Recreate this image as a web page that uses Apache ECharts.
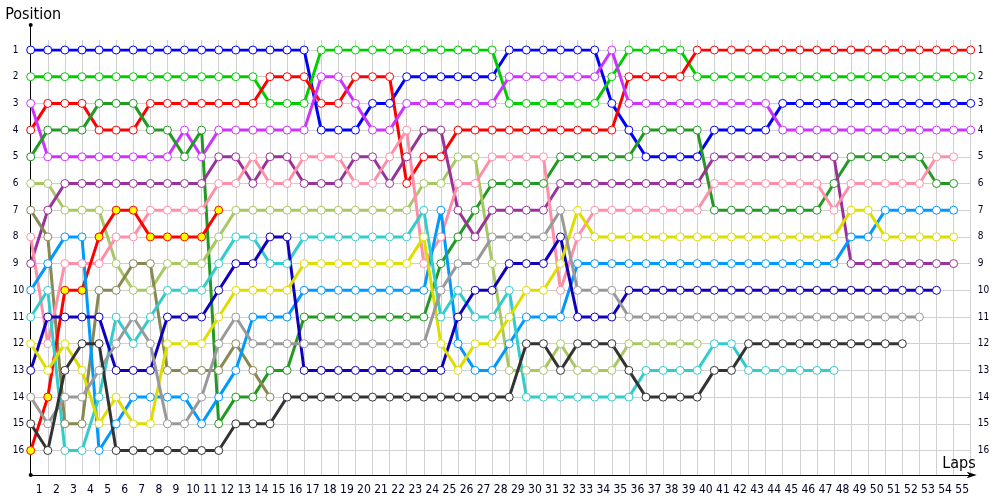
<!DOCTYPE html>
<html><head><meta charset="utf-8">
<script src="https://cdn.jsdelivr.net/npm/echarts/dist/echarts.min.js"></script>
<style>html,body{margin:0;padding:0;background:#fff}#c{width:1000px;height:500px}</style>
</head><body><div id="c"></div>
<script>
const lapLabels = ['1','2','3','4','5','6','7','8','9','10','11','12','13','14','15','16','17','18','19','20','21','22','23','24','25','26','27','28','29','30','31','32','33','34','35','36','37','38','39','40','41','42','43','44','45','46','47','48','49','50','51','52','53','54','55'];

// positions after each lap boundary (index 0 = start)
const blue = [1,1,1,1,1,1,1,1,1,1,1,1,1,1,1,1,1, 4,4,4, 3,3, 2,2,2,2,2,2, 1,1,1,1,1,1, 3, 4, 5,5,5,5, 4,4,4,4, 3,3,3,3,3,3,3,3,3,3,3,3];
const green = [2,2,2,2,2,2,2,2,2,2,2,2,2,2, 3,3,3, 1,1,1,1,1,1,1,1,1,1,1, 3,3,3,3,3,3, 2, 1,1,1,1, 2,2,2,2,2,2,2,2,2,2,2,2,2,2,2,2,2];
const red = [4, 3,3,3, 4,4,4, 3,3,3,3,3,3,3, 2,2,2, 3,3, 2,2,2, 6, 5,5, 4,4,4,4,4,4,4,4,4,4, 2,2,2,2, 1,1,1,1,1,1,1,1,1,1,1,1,1,1,1,1,1];
const violet = [3, 5,5,5,5,5,5,5,5, 4, 5, 4,4,4,4,4,4, 2,2, 3, 4,4, 3,3,3,3,3,3, 2,2,2,2,2,2, 1, 3,3,3,3,3,3,3,3,3, 4,4,4,4,4,4,4,4,4,4,4,4];
const darkGreen = [5, 4,4,4, 3,3,3, 4,4, 5, 4, 15, 14,14, 13,13, 11,11,11,11,11,11,11,11, 9, 8, 7, 6,6,6,6, 5,5,5,5,5, 4,4,4,4, 7,7,7,7,7,7,7, 6, 5,5,5,5,5, 6,6];
const lightOlive = [6,6, 7,7,7, 9, 10,10, 9,9,9, 8, 7,7,7,7,7,7,7,7,7,7,7, 6,6, 5,5, 9, 13,13,13, 12, 13,13,13, 12,12,12,12,12];
const plum = [9, 7, 6,6,6,6,6,6,6,6,6, 5,5, 6, 5,5, 6,6,6, 5,5, 6, 5, 4,4, 7, 8, 7,7,7,7, 6,6,6,6,6,6,6,6,6, 5,5,5,5,5,5,5,5, 9,9,9,9,9,9,9];
const olive = [7, 8, 15,15, 10,10, 9,9, 13,13,13,13, 12, 13, 14];
const pink = [8, 12, 9,9,9, 8,8, 7,7,7,7, 6,6, 5, 6,6, 5,5,5, 6,6, 5, 4, 9, 8, 6,6, 5,5,5,5, 10, 8, 7,7,7,7,7,7,7, 6,6,6,6,6,6,6, 7, 6,6,6,6,6, 5,5];
const redYellow = [16, 14, 10,10, 8, 7,7, 8,8,8,8, 7];
const skyBlue = [10, 9, 8,8, 16, 15, 14,14,14,14, 15, 14, 13, 11,11,11, 10,10,10,10,10,10,10,10, 7, 12, 13,13, 12, 11,11,11, 9,9,9,9,9,9,9,9,9,9,9,9,9,9,9,9, 8,8, 7,7,7,7,7];
const cyan = [11, 10, 16,16, 14, 11, 12, 11, 10,10,10, 9, 8,8, 9,9, 8,8,8,8,8,8,8, 7, 11, 10, 11,11, 10, 14,14,14,14,14,14,14, 13,13,13,13, 12,12, 13,13,13,13,13,13];
const navy = [13, 11,11,11,11, 13,13,13, 11,11,11, 10, 9,9, 8,8, 13,13,13,13,13,13,13,13,13, 11, 10,10, 9,9,9, 8, 11,11,11, 10,10,10,10,10,10,10,10,10,10,10,10,10,10,10,10,10,10,10];
const yellow = [12, 13, 12, 13, 15, 14, 15,15, 12,12,12, 11, 10,10,10,10, 9,9,9,9,9,9,9, 8, 12, 13, 12,12, 11, 10,10, 9, 7, 8,8,8,8,8,8,8,8,8,8,8,8,8,8,8, 7,7, 8,8,8,8,8];
const gray = [14, 15, 14,14, 13, 12, 11, 12, 15,15, 14, 12, 11, 12,12,12,12,12,12,12,12,12,12,12, 10, 9,9, 8,8,8,8, 7, 10,10,10, 11,11,11,11,11,11,11,11,11,11,11,11,11,11,11,11,11,11];
const charcoal = [15, 16, 13, 12,12, 16,16,16,16,16,16,16, 15,15,15, 14,14,14,14,14,14,14,14,14,14,14,14,14,14, 12,12, 13, 12,12,12, 13, 14,14,14,14, 13,13, 12,12,12,12,12,12,12,12,12,12];

const driverSeries = [
  ['blue', blue, '#0000ff', '#ffffff'],
  ['green', green, '#00cc00', '#ffffff'],
  ['red', red, '#ff0000', '#ffffff'],
  ['violet', violet, '#cc33ff', '#ffffff'],
  ['darkGreen', darkGreen, '#229922', '#ffffff'],
  ['lightOlive', lightOlive, '#a8c864', '#ffffff'],
  ['plum', plum, '#993399', '#ffffff'],
  ['olive', olive, '#888855', '#ffffff'],
  ['pink', pink, '#ff8fa8', '#ffffff'],
  ['redYellow', redYellow, '#ff0000', '#ffff00'],
  ['skyBlue', skyBlue, '#0099ff', '#ffffff'],
  ['cyan', cyan, '#33cccc', '#ffffff'],
  ['navy', navy, '#1100bb', '#ffffff'],
  ['yellow', yellow, '#dddd00', '#ffffff'],
  ['gray', gray, '#999999', '#ffffff'],
  ['charcoal', charcoal, '#333333', '#ffffff']
];

const FONT = '"DejaVu Sans Condensed", "Liberation Sans", sans-serif';
const L = 30.7, R = 29.3;

const chart = echarts.init(document.getElementById('c'), null, {renderer: 'canvas'});
chart.setOption({
  animation: false,
  backgroundColor: '#ffffff',
  grid: [
    {left: L, right: R, top: 50, bottom: 49.5},
    {left: L, right: R, top: 40, bottom: 25},
    {left: L, right: R, top: 25, bottom: 25}
  ],
  xAxis: [
    {gridIndex: 0, type: 'value', min: 0, max: 55, show: false},
    {gridIndex: 1, type: 'category', data: lapLabels, boundaryGap: true,
     axisLine: {show: true, lineStyle: {color: '#000', width: 1}, symbol: ['none', 'arrow'], symbolSize: [5, 10], symbolOffset: [0, 6]},
     axisTick: {show: false},
     axisLabel: {interval: 0, fontSize: 12, color: '#000022', margin: 9, fontFamily: FONT},
     splitLine: {show: true, interval: 0, lineStyle: {color: '#d0d0d0', width: 1}},
     name: 'Laps', nameLocation: 'end', nameGap: 5,
     nameTextStyle: {fontSize: 16, color: '#000', align: 'right', verticalAlign: 'bottom', padding: [0, 0, 3, 0], fontFamily: FONT}},
    {gridIndex: 2, type: 'value', min: 0, max: 1, show: false}
  ],
  yAxis: [
    {gridIndex: 0, type: 'value', inverse: true, min: 1, max: 16, interval: 1,
     axisLine: {show: false}, axisTick: {show: false},
     splitLine: {show: true, lineStyle: {color: '#d0d0d0', width: 1}},
     axisLabel: {fontSize: 10, color: '#000022', align: 'left', margin: 18, fontFamily: FONT}},
    {gridIndex: 0, type: 'value', position: 'right', inverse: true, min: 1, max: 16, interval: 1,
     axisLine: {show: false}, axisTick: {show: false}, splitLine: {show: false},
     axisLabel: {fontSize: 10, color: '#000022', margin: 7, fontFamily: FONT}},
    {gridIndex: 1, type: 'value', min: 0, max: 1, show: false},
    {gridIndex: 2, type: 'value', min: 0, max: 1,
     axisLine: {show: true, onZero: false, lineStyle: {color: '#000', width: 1}, symbol: ['circle', 'circle'], symbolSize: [4, 4]},
     axisTick: {show: false}, axisLabel: {show: false}, splitLine: {show: false},
     name: 'Position', nameLocation: 'end', nameGap: 2,
     nameTextStyle: {fontSize: 16, color: '#000', align: 'center', verticalAlign: 'bottom', padding: [0, 0, 0, 5], fontFamily: FONT}}
  ],
  series: driverSeries.map(([name, arr, color, fill]) => ({
    name: name,
    type: 'line',
    xAxisIndex: 0, yAxisIndex: 0,
    data: arr.map((p, k) => [k, p]),
    symbol: 'circle', symbolSize: 8, showAllSymbol: true,
    lineStyle: {color: color, width: 3},
    itemStyle: {color: fill, borderColor: color, borderWidth: 1},
    emphasis: {disabled: true},
    silent: true
  }))
});
</script>
</body></html>
